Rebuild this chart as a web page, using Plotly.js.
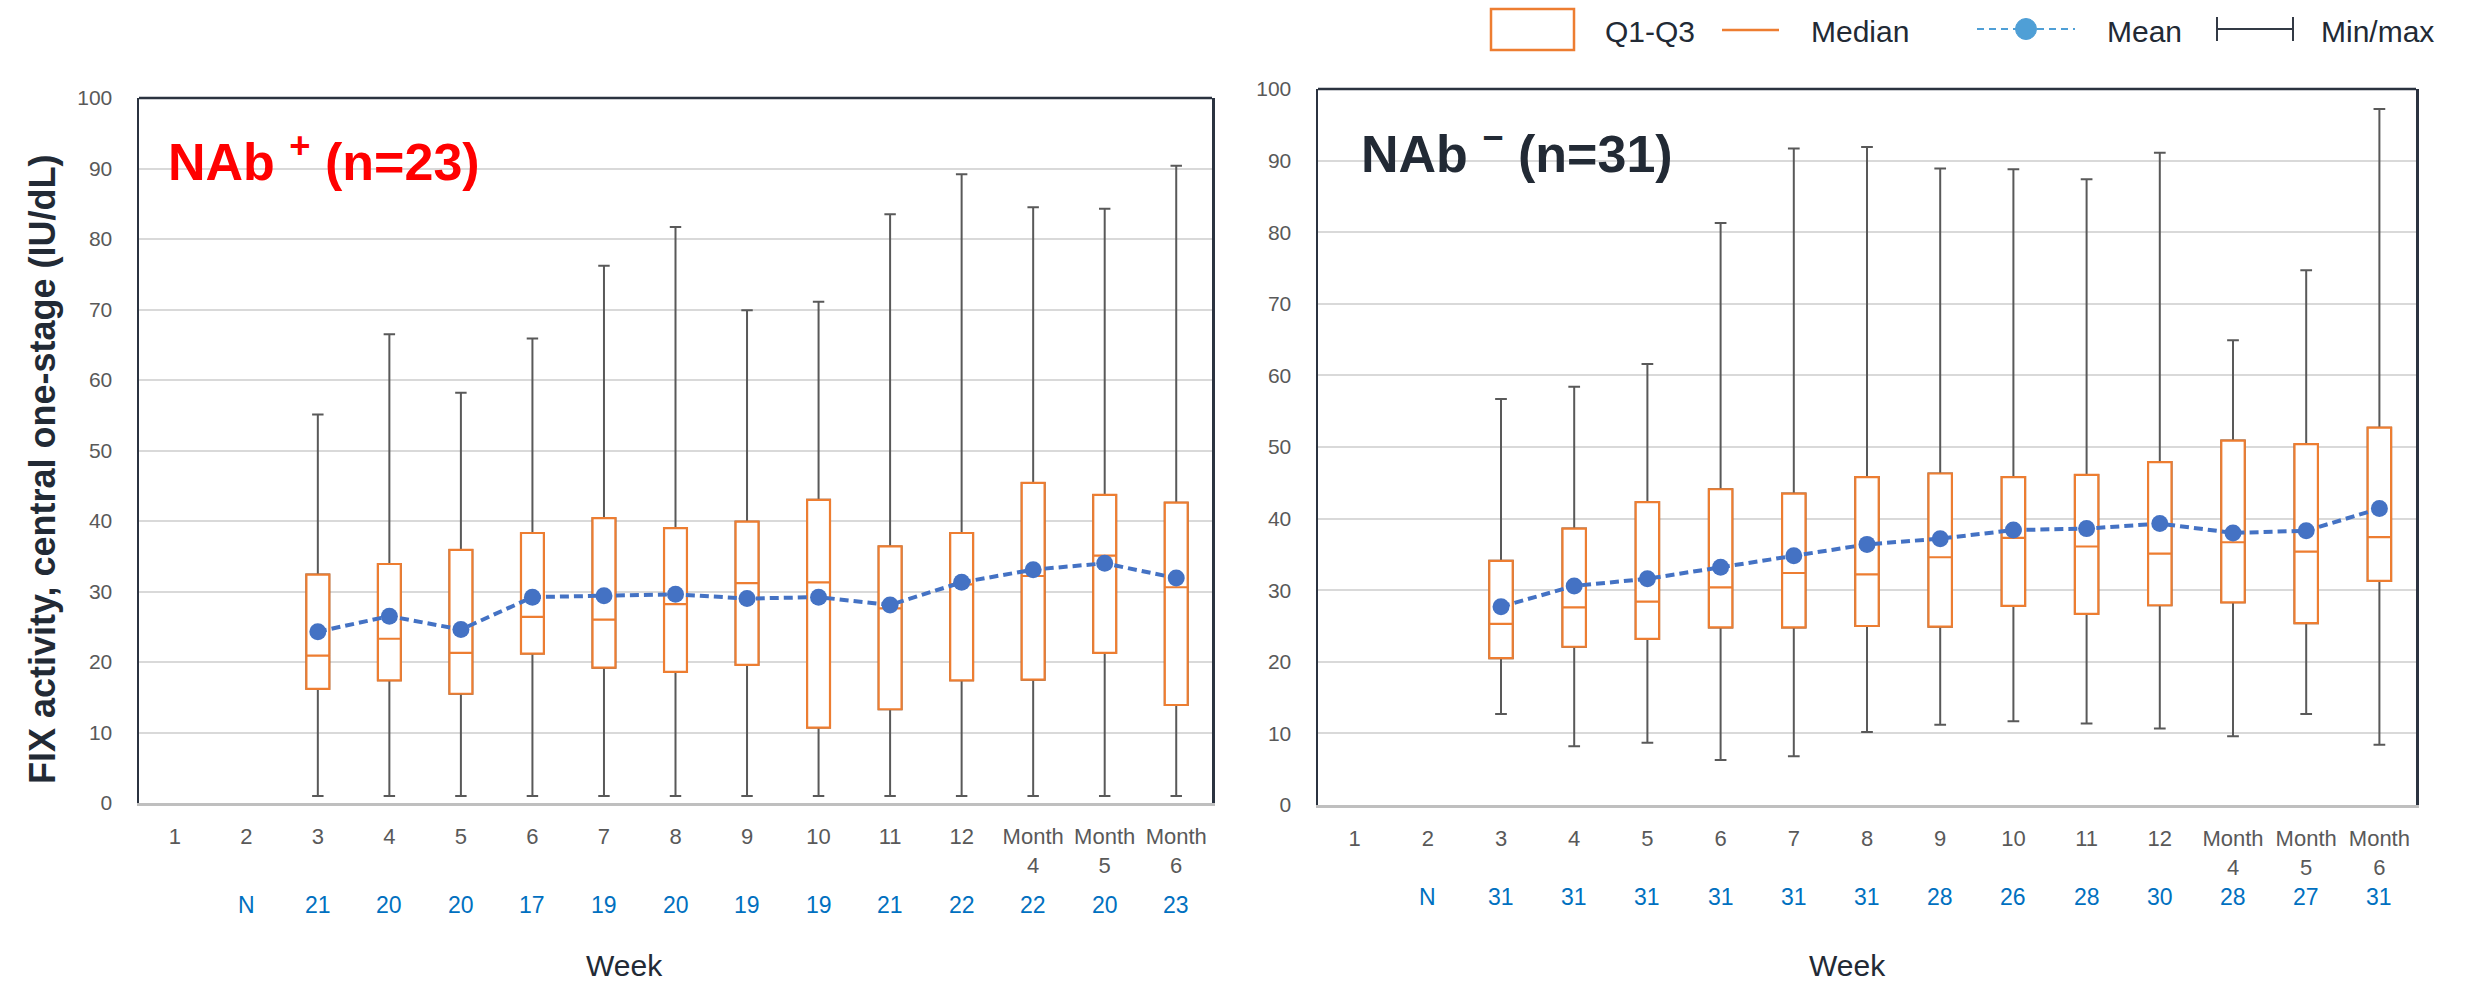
<!DOCTYPE html>
<html>
<head>
<meta charset="utf-8">
<script src="https://cdn.plot.ly/plotly-3.0.1.min.js"></script>
<style>
  html, body { margin: 0; padding: 0; background: #ffffff; }
  #chart { width: 2469px; height: 984px; }
</style>
</head>
<body>
<div id="chart"></div>
<script>
// ---------- DATA ----------
const categories = ["1", "2", "3", "4", "5", "6", "7", "8", "9", "10", "11", "12", "Month<br>4", "Month<br>5", "Month<br>6"];
const dataCategories = ["3", "4", "5", "6", "7", "8", "9", "10", "11", "12", "Month<br>4", "Month<br>5", "Month<br>6"];
const nLabelCategory = "2";

// NAb+ (n=23)
const posMin    = [1.0, 1.0, 1.0, 1.0, 1.0, 1.0, 1.0, 1.0, 1.0, 1.0, 1.0, 1.0, 1.0];
const posQ1     = [16.2, 17.4, 15.5, 21.2, 19.2, 18.6, 19.6, 10.7, 13.3, 17.4, 17.5, 21.3, 13.9];
const posMedian = [20.9, 23.3, 21.3, 26.4, 26.0, 28.2, 31.2, 31.3, 27.6, 31.0, 32.2, 35.1, 30.6];
const posQ3     = [32.4, 33.9, 35.9, 38.3, 40.4, 39.0, 39.9, 43.0, 36.4, 38.3, 45.4, 43.7, 42.6];
const posMax    = [55.1, 66.5, 58.2, 65.9, 76.2, 81.7, 69.9, 71.1, 83.5, 89.2, 84.5, 84.3, 90.4];
const posMean   = [24.3, 26.5, 24.6, 29.2, 29.4, 29.6, 29.0, 29.2, 28.1, 31.3, 33.1, 34.0, 31.9];
const posN      = [21, 20, 20, 17, 19, 20, 19, 19, 21, 22, 22, 20, 23];

// NAb- (n=31)
const negMin    = [12.7, 8.2, 8.7, 6.3, 6.8, 10.2, 11.2, 11.7, 11.4, 10.7, 9.6, 12.7, 8.4];
const negQ1     = [20.5, 22.1, 23.2, 24.8, 24.8, 25.0, 24.9, 27.8, 26.7, 27.9, 28.3, 25.4, 31.3];
const negMedian = [25.3, 27.6, 28.4, 30.4, 32.4, 32.2, 34.6, 37.3, 36.1, 35.1, 36.7, 35.4, 37.4];
const negQ3     = [34.1, 38.6, 42.3, 44.1, 43.5, 45.8, 46.3, 45.8, 46.1, 47.9, 50.9, 50.4, 52.7];
const negMax    = [56.7, 58.4, 61.6, 81.3, 91.7, 91.9, 88.9, 88.8, 87.4, 91.1, 64.9, 74.7, 97.2];
const negMean   = [27.7, 30.6, 31.6, 33.2, 34.8, 36.4, 37.2, 38.4, 38.6, 39.3, 38.0, 38.3, 41.4];
const negN      = [31, 31, 31, 31, 31, 31, 28, 26, 28, 30, 28, 27, 31];

const yTickValues = [0, 10, 20, 30, 40, 50, 60, 70, 80, 90, 100];

const titlePos = "NAb <sup>+</sup> (n=23)";
const titleNeg = "NAb <sup>\u2212</sup> (n=31)";
const yTitle = "FIX activity, central one-stage (IU/dL)";
const xTitle = "Week";
const legendLabels = ["Q1-Q3", "Median", "Mean", "Min/max"];

// ---------- STYLE ----------
const W = 2469, H = 984;
const FONT = "Liberation Sans, Arial, sans-serif";
const ORANGE = "#ed7d31";
const BLUE = "#4472c4";
const LIGHTBLUE = "#4f9fd6";
const WHISK = "#595959";
const DARK = "#222a35";
const TICK = "#595959";
const NBLUE = "#0070c0";
const px = v => v / W;
const py = v => 1 - v / H;

function panelTraces(xa, ya, mn, q1, med, q3, mx, mean) {
  return [
    { type: "box", x: dataCategories, q1: q1, median: med, q3: q3, lowerfence: mn, upperfence: mx,
      xaxis: xa, yaxis: ya, width: 0.32, whiskerwidth: 0.5, fillcolor: "#ffffff",
      line: { color: WHISK, width: 2 }, boxpoints: false, showlegend: false, hoverinfo: "skip" },
    { type: "box", x: dataCategories, q1: q1, median: med, q3: q3, lowerfence: q1, upperfence: q3,
      xaxis: xa, yaxis: ya, width: 0.32, whiskerwidth: 0, fillcolor: "#ffffff",
      line: { color: ORANGE, width: 2.2 }, boxpoints: false, showlegend: false, hoverinfo: "skip" },
    { type: "scatter", mode: "lines+markers", x: dataCategories, y: mean, xaxis: xa, yaxis: ya,
      line: { color: BLUE, width: 4, dash: "9px,5px" }, marker: { color: BLUE, size: 17 },
      showlegend: false, hoverinfo: "skip" }
  ];
}

const data = [].concat(
  panelTraces("x", "y", posMin, posQ1, posMedian, posQ3, posMax, posMean),
  panelTraces("x2", "y2", negMin, negQ1, negMedian, negQ3, negMax, negMean)
);

function xAxis(domain, anchor) {
  return {
    domain: domain, anchor: anchor, type: "category",
    categoryorder: "array", categoryarray: categories,
    range: [-0.5, categories.length - 0.5],
    showgrid: false, zeroline: false,
    showline: true, linecolor: "#bfbfbf", linewidth: 3,
    ticks: "", ticklabelstandoff: 12,
    tickfont: { family: FONT, size: 22, color: TICK },
    fixedrange: true
  };
}
function yAxis(domain, anchor) {
  return {
    domain: domain, anchor: anchor, range: [0, 100],
    tickvals: yTickValues, ticktext: yTickValues.map(String),
    showgrid: true, gridcolor: "#d9d9d9", gridwidth: 2,
    zeroline: false, showline: true, mirror: true, linecolor: "#2b3340", linewidth: 2.5,
    ticks: "", ticklabelstandoff: 20,
    tickfont: { family: FONT, size: 21, color: TICK },
    fixedrange: true
  };
}

const annotations = [];
function panelAnnotations(xa, nVals, nRowY, weekX) {
  annotations.push({ xref: xa, yref: "paper", x: categories.indexOf(nLabelCategory), y: py(nRowY),
    text: "N", showarrow: false, xanchor: "center", yanchor: "middle",
    font: { family: FONT, size: 23, color: NBLUE } });
  dataCategories.forEach((c, i) => {
    annotations.push({ xref: xa, yref: "paper", x: categories.indexOf(c), y: py(nRowY),
      text: String(nVals[i]), showarrow: false, xanchor: "center", yanchor: "middle",
      font: { family: FONT, size: 23, color: NBLUE } });
  });
  annotations.push({ xref: "paper", yref: "paper", x: px(weekX), y: 0, text: xTitle,
    showarrow: false, xanchor: "center", yanchor: "bottom",
    font: { family: FONT, size: 30, color: DARK } });
}
panelAnnotations("x", posN, 905, 624);
panelAnnotations("x2", negN, 897, 1847);

// y axis title (placed as in the original, slightly below the plot centre)
annotations.push({ xref: "paper", yref: "paper", x: px(42), y: py(470), text: yTitle,
  textangle: -90, showarrow: false, xanchor: "center", yanchor: "middle",
  font: { family: FONT, size: 36, weight: "bold", color: DARK } });

annotations.push({ xref: "paper", yref: "paper", x: px(166), y: py(158), text: titlePos,
  showarrow: false, xanchor: "left", yanchor: "middle",
  font: { family: FONT, size: 52, weight: "bold", color: "#ff0000" } });
annotations.push({ xref: "paper", yref: "paper", x: px(1359), y: py(150), text: titleNeg,
  showarrow: false, xanchor: "left", yanchor: "middle",
  font: { family: FONT, size: 52, weight: "bold", color: DARK } });

// legend texts
const legendTextX = [1603, 1809, 2105, 2319];
legendLabels.forEach((t, i) => {
  annotations.push({ xref: "paper", yref: "paper", x: px(legendTextX[i]), y: py(32), text: t,
    showarrow: false, xanchor: "left", yanchor: "middle",
    font: { family: FONT, size: 30, color: DARK } });
});

const shapes = [
  // top frame lines
  { type: "line", xref: "x domain", yref: "y domain", x0: 0, x1: 1, y0: 1, y1: 1, line: { color: "#2b3340", width: 2.5 } },
  { type: "line", xref: "x2 domain", yref: "y2 domain", x0: 0, x1: 1, y0: 1, y1: 1, line: { color: "#2b3340", width: 2.5 } },
  // legend: Q1-Q3 box
  { type: "rect", xref: "paper", yref: "paper", x0: px(1491), x1: px(1574), y0: py(50), y1: py(9),
    line: { color: ORANGE, width: 2.5 }, fillcolor: "#ffffff" },
  // legend: median
  { type: "line", xref: "paper", yref: "paper", x0: px(1722), x1: px(1779), y0: py(30), y1: py(30),
    line: { color: ORANGE, width: 2.5 } },
  // legend: mean
  { type: "line", xref: "paper", yref: "paper", x0: px(1977), x1: px(2075), y0: py(29), y1: py(29),
    line: { color: LIGHTBLUE, width: 2, dash: "7px,5px" } },
  { type: "circle", xref: "paper", yref: "paper", x0: px(2015.5), x1: px(2036.5), y0: py(39.5), y1: py(18.5),
    line: { color: LIGHTBLUE, width: 1 }, fillcolor: LIGHTBLUE },
  // legend: min/max
  { type: "line", xref: "paper", yref: "paper", x0: px(2217), x1: px(2293), y0: py(29), y1: py(29),
    line: { color: "#333a45", width: 2 } },
  { type: "line", xref: "paper", yref: "paper", x0: px(2217), x1: px(2217), y0: py(41), y1: py(17),
    line: { color: "#333a45", width: 2 } },
  { type: "line", xref: "paper", yref: "paper", x0: px(2293), x1: px(2293), y0: py(41), y1: py(17),
    line: { color: "#333a45", width: 2 } }
];

const layout = {
  width: W, height: H,
  margin: { l: 0, r: 0, t: 0, b: 0, pad: 0 },
  paper_bgcolor: "#ffffff", plot_bgcolor: "#ffffff",
  showlegend: false,
  boxmode: "overlay",
  font: { family: FONT, color: DARK },
  xaxis: xAxis([px(139), px(1212)], "y"),
  yaxis: yAxis([py(803), py(98)], "x"),
  xaxis2: xAxis([px(1318), px(2416)], "y2"),
  yaxis2: yAxis([py(805), py(89)], "x2"),
  annotations: annotations,
  shapes: shapes
};

Plotly.newPlot("chart", data, layout, { staticPlot: true, displayModeBar: false });
</script>
</body>
</html>
